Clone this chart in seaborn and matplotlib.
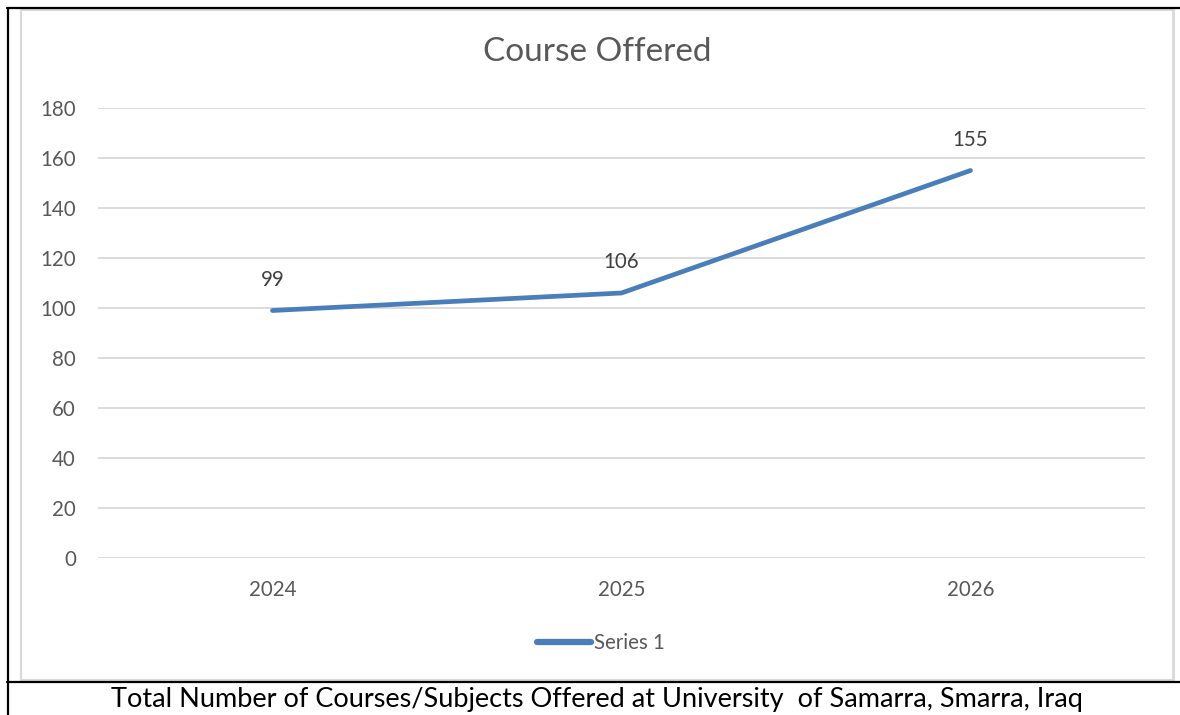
import matplotlib
matplotlib.use("Agg")
import matplotlib.pyplot as plt
import seaborn as sns
import pandas as pd
from matplotlib.lines import Line2D

years = ["2024", "2025", "2026"]
courses = [99, 106, 155]
series_name = "Series 1"
title = "Course Offered"
caption = "Total Number of Courses/Subjects Offered at University  of Samarra, Smarra, Iraq"
yticks = [0, 20, 40, 60, 80, 100, 120, 140, 160, 180]

sns.set_theme(style="white")
plt.rcParams['font.family'] = ['Lato', 'DejaVu Sans']

df = pd.DataFrame({"year": years, "courses": courses, "series": series_name})

W, H = 1180, 715
fig = plt.figure(figsize=(W/100, H/100), dpi=100)
ax = fig.add_axes([98/W, 1-558/H, (1145-98)/W, (558-108)/H])

line_color = "#4A7EBB"
sns.lineplot(data=df, x="year", y="courses", hue="series", palette=[line_color],
             linewidth=3.4, ax=ax, legend=False, sort=False)
ax.lines[0].set_solid_capstyle("round")

ax.set_xlim(-0.5, 2.5)
ax.set_ylim(0, 180)
ax.set_yticks(yticks)
ax.yaxis.grid(True, color="#D9D9D9", linewidth=1.3)
ax.set_axisbelow(True)
for s in ax.spines.values():
    s.set_visible(False)
ax.tick_params(axis="both", length=0, labelsize=14.8, labelcolor="#595959")
ax.tick_params(axis="y", pad=16)
ax.tick_params(axis="x", pad=16)
ax.set_xlabel("")
ax.set_ylabel("")

for i, v in enumerate(courses):
    ax.annotate(str(v), (i, v), xytext=(0, 22), textcoords="offset points",
                ha="center", va="center", fontsize=14.8, color="#404040")

fig.text(597/W, 1-52/H, title, ha="center", va="center", fontsize=24, color="#595959")

handle = Line2D([], [], color=line_color, linewidth=4.5, solid_capstyle="round")
fig.legend([handle], [series_name], loc="center", bbox_to_anchor=(601/W, 1-643/H),
           frameon=False, fontsize=14.8, handlelength=2.6, handletextpad=0.15,
           labelcolor="#595959")

fig.text(597/W, 1-700/H, caption, ha="center", va="center", fontsize=19.5, color="black")

# chart frame (light gray) and page borders (black)
gray = "#D9D9D9"
def fline(x0, y0, x1, y1, color, lw):
    fig.add_artist(Line2D([x0/W, x1/W], [1-y0/H, 1-y1/H], color=color, linewidth=lw,
                          transform=fig.transFigure))
fline(21, 9, 21, 680, gray, 1.5)
fline(1173, 9, 1173, 680, gray, 2.0)
fline(21, 9.5, 1173, 9.5, gray, 1.5)
fline(21, 680, 1173, 680, gray, 1.5)
fline(7.5, 7.5, 7.5, 715, "black", 1.6)
fline(7, 7.5, 1180, 7.5, "black", 1.6)
fline(7, 681.5, 1180, 681.5, "black", 1.6)

fig.savefig("out.png", dpi=100)
